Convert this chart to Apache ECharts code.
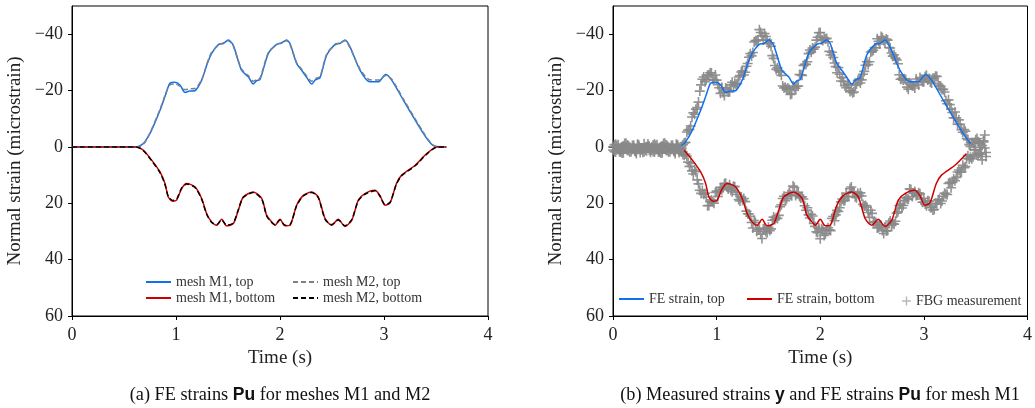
<!DOCTYPE html>
<html>
<head>
<meta charset="utf-8">
<script src="https://cdn.jsdelivr.net/npm/echarts@6/dist/echarts.min.js"></script>
<style>
  html, body { margin: 0; padding: 0; background: #fff; }
  #chart { width: 1035px; height: 408px; }
</style>
</head>
<body>
<div id="chart"></div>
<script>
// FE strains, top fibre (mesh M1 and mesh M2)
var topTime = [0, 0.62, 0.66, 0.70, 0.76, 0.846, 0.90, 0.94, 0.99, 1.04, 1.087, 1.13, 1.18, 1.247, 1.30,
  1.343, 1.41, 1.455, 1.503, 1.55, 1.63, 1.695, 1.743, 1.775, 1.808, 1.888, 1.968, 2.01, 2.064, 2.096,
  2.16, 2.208, 2.26, 2.305, 2.34, 2.385, 2.449, 2.529, 2.58, 2.625, 2.673, 2.77, 2.865, 2.945, 3.016,
  3.074, 3.186, 3.378, 3.45, 3.49, 3.6];
var m1Top = [0, 0, -0.5, -1.8, -5.5, -13, -18.5, -22.5, -22.9, -21.9, -19.3, -19.8, -19.9, -23.7, -29.5,
  -33.2, -36.4, -36.7, -37.9, -36.1, -27.2, -24.9, -22.3, -23.5, -23.9, -33.2, -36.4, -36.8, -37.9, -36.7,
  -29.6, -27.2, -24.5, -22.3, -23.8, -24.6, -32.6, -36.4, -36.8, -37.9, -35.5, -27.2, -23.1, -23.1, -25.7,
  -23.7, -16.6, -4.8, -1.2, -0.2, 0];
var m2Top = [0, 0, -0.3, -1.5, -5.8, -13.3, -18.8, -22.0, -22.3, -21.5, -20.3, -20.6, -20.7, -23.9, -29.8,
  -33.6, -36.2, -36.9, -37.7, -35.8, -27.6, -25.3, -23.3, -23.9, -24.4, -33.5, -36.3, -36.9, -37.7, -36.4,
  -29.9, -27.6, -25.0, -23.3, -24.2, -25.0, -32.9, -36.2, -36.9, -37.7, -35.2, -27.6, -23.8, -23.7, -25.3,
  -24.0, -17.0, -5.2, -1.4, -0.3, 0];

// FE strains, bottom fibre
var botTime = [0, 0.62, 0.686, 0.766, 0.846, 0.894, 0.926, 0.968, 1.006, 1.054, 1.103, 1.183, 1.247, 1.295,
  1.343, 1.391, 1.439, 1.487, 1.551, 1.599, 1.647, 1.743, 1.824, 1.872, 1.92, 1.952, 2.0, 2.048, 2.096,
  2.16, 2.224, 2.305, 2.368, 2.433, 2.497, 2.56, 2.625, 2.69, 2.753, 2.817, 2.913, 2.96, 3.01, 3.058,
  3.12, 3.17, 3.3, 3.41, 3.507, 3.6];
var m1Bot = [0, 0, 1.2, 4.7, 8.9, 13, 17.8, 19.3, 18.9, 14.8, 13, 14.2, 18.3, 23.7,
  26.6, 27.8, 25.7, 28, 27.2, 22.5, 17.8, 16, 18.3, 24.3, 26.6, 27.8, 25.7, 28, 27.8,
  20.7, 17.2, 16, 17.8, 25.4, 27.8, 25.7, 28.2, 26, 18.9, 16.6, 15.4, 17.2, 20.7, 19.9,
  13, 10, 6.5, 2.4, 0, 0];
var m2Bot = [0, 0, 1.3, 4.9, 9.1, 13.3, 17.6, 19.0, 18.6, 14.6, 13.2, 14.4, 18.6, 23.9,
  26.8, 27.6, 25.9, 27.8, 27.0, 22.3, 17.9, 16.2, 18.5, 24.5, 26.8, 27.6, 25.9, 27.8, 27.6,
  20.9, 17.4, 16.2, 18.0, 25.6, 27.6, 25.9, 28.0, 25.8, 19.1, 16.8, 15.6, 17.4, 20.5, 19.7,
  13.2, 10.2, 6.7, 2.6, 0.1, 0];

// FBG measurements, first sample set
var fbgTime = [0, 0.025, 0.05, 0.075, 0.1, 0.125, 0.15, 0.175, 0.2, 0.225,
  0.25, 0.275, 0.3, 0.325, 0.35, 0.375, 0.4, 0.425, 0.45, 0.475,
  0.5, 0.525, 0.55, 0.575, 0.6, 0.625, 0.65, 0.675, 0.7, 0.725,
  0.75, 0.775, 0.8, 0.825, 0.85, 0.875, 0.9, 0.925, 0.95, 0.975,
  1.0, 1.025, 1.05, 1.075, 1.1, 1.125, 1.15, 1.175, 1.2, 1.225,
  1.25, 1.275, 1.3, 1.325, 1.35, 1.375, 1.4, 1.425, 1.45, 1.475,
  1.5, 1.525, 1.55, 1.575, 1.6, 1.625, 1.65, 1.675, 1.7, 1.725,
  1.75, 1.775, 1.8, 1.825, 1.85, 1.875, 1.9, 1.925, 1.95, 1.975,
  2.0, 2.025, 2.05, 2.075, 2.1, 2.125, 2.15, 2.175, 2.2, 2.225,
  2.25, 2.275, 2.3, 2.325, 2.35, 2.375, 2.4, 2.425, 2.45, 2.475,
  2.5, 2.525, 2.55, 2.575, 2.6, 2.625, 2.65, 2.675, 2.7, 2.725,
  2.75, 2.775, 2.8, 2.825, 2.85, 2.875, 2.9, 2.925, 2.95, 2.975,
  3.0, 3.025, 3.05, 3.075, 3.1, 3.125, 3.15, 3.175, 3.2, 3.225,
  3.25, 3.275, 3.3, 3.325, 3.35, 3.375, 3.4, 3.425, 3.45, 3.475,
  3.5, 3.525, 3.55, 3.575, 3.6];
var fbgTop = [1.1, -0.9, 0.6, 1.8, -0.3, -1.3, 1.3, 0.5, -0.6, 1.6,
  0.0, 0.9, -1.1, 1.4, -0.2, 1.1, -0.9, 0.6, 1.8, -0.3,
  -1.3, 1.3, 0.5, -0.6, 1.6, 0.0, 0.9, -0.8, -1.6, -5.9,
  -7.4, -12.1, -13.4, -15.9, -22.0, -24.8, -23.8, -25.5, -26.2, -23.7,
  -23.7, -21.0, -21.1, -18.2, -20.4, -19.6, -22.9, -22.6, -22.5, -25.3,
  -27.0, -26.5, -29.6, -33.1, -33.5, -37.7, -37.9, -40.6, -37.9, -39.2,
  -36.6, -35.7, -31.4, -27.5, -27.0, -25.4, -20.9, -20.5, -20.4, -18.9,
  -21.2, -21.5, -25.7, -25.4, -29.3, -30.2, -34.4, -35.1, -35.4, -38.9,
  -40.6, -37.8, -38.3, -37.3, -32.6, -31.7, -28.5, -28.2, -23.4, -23.2,
  -21.0, -22.1, -20.0, -19.5, -22.3, -24.1, -23.8, -26.8, -30.2, -30.2,
  -33.9, -35.2, -38.4, -36.5, -38.7, -37.2, -37.9, -35.1, -32.2, -31.5,
  -29.5, -24.0, -23.7, -23.8, -20.5, -22.2, -21.7, -24.1, -22.0, -24.0,
  -23.1, -25.4, -24.3, -22.7, -24.4, -25.0, -21.6, -20.4, -19.5, -15.3,
  -15.0, -12.2, -12.4, -8.1, -8.0, -5.2, -5.6, -2.6, -0.2, -1.2,
  -2.5, 2.8, 0.2, -1.8, 2.0];
var fbgBottom = [0.0, 1.8, -0.8, 1.1, 2.1, 0.5, -0.4, 1.6, 0.3, 2.3,
  -0.6, 0.9, 1.7, -0.1, 1.2, 0.0, 1.8, -0.8, 1.1, 2.1,
  0.5, -0.4, 1.6, 0.3, 2.3, -0.6, 0.9, 2.7, 2.5, 5.4,
  5.9, 9.6, 8.8, 13.1, 16.5, 16.8, 17.8, 20.8, 18.8, 20.0,
  15.7, 15.7, 15.2, 13.1, 14.2, 13.4, 15.9, 14.1, 16.9, 19.2,
  18.9, 19.4, 23.7, 24.6, 28.8, 26.8, 29.3, 31.0, 29.1, 30.0,
  28.5, 29.1, 24.9, 25.1, 24.3, 20.5, 17.5, 18.4, 16.2, 17.3,
  14.4, 16.3, 17.6, 17.7, 20.9, 21.6, 25.2, 24.5, 28.2, 30.4,
  32.6, 29.6, 30.8, 28.7, 29.7, 24.7, 24.1, 22.9, 19.5, 19.1,
  16.4, 17.5, 14.2, 16.2, 18.0, 17.2, 17.4, 21.0, 21.4, 25.0,
  23.6, 26.5, 28.8, 27.7, 29.7, 28.6, 29.7, 26.3, 27.2, 26.4,
  23.0, 20.3, 20.8, 18.0, 18.6, 15.1, 16.4, 17.2, 16.3, 18.5,
  18.2, 20.9, 19.3, 21.5, 22.2, 20.2, 18.6, 19.2, 16.4, 16.9,
  12.6, 12.6, 12.0, 8.9, 8.9, 6.5, 7.0, 3.1, 3.7, 3.5,
  1.1, -1.8, 2.6, -2.2, 3.4];

// FBG measurements, second (interleaved) sample set
var fbgTime2 = [0.0125, 0.0375, 0.0625, 0.0875, 0.1125, 0.1375, 0.1625, 0.1875, 0.2125, 0.2375,
  0.2625, 0.2875, 0.3125, 0.3375, 0.3625, 0.3875, 0.4125, 0.4375, 0.4625, 0.4875,
  0.5125, 0.5375, 0.5625, 0.5875, 0.6125, 0.6375, 0.6625, 0.6875, 0.7125, 0.7375,
  0.7625, 0.7875, 0.8125, 0.8375, 0.8625, 0.8875, 0.9125, 0.9375, 0.9625, 0.9875,
  1.0125, 1.0375, 1.0625, 1.0875, 1.1125, 1.1375, 1.1625, 1.1875, 1.2125, 1.2375,
  1.2625, 1.2875, 1.3125, 1.3375, 1.3625, 1.3875, 1.4125, 1.4375, 1.4625, 1.4875,
  1.5125, 1.5375, 1.5625, 1.5875, 1.6125, 1.6375, 1.6625, 1.6875, 1.7125, 1.7375,
  1.7625, 1.7875, 1.8125, 1.8375, 1.8625, 1.8875, 1.9125, 1.9375, 1.9625, 1.9875,
  2.0125, 2.0375, 2.0625, 2.0875, 2.1125, 2.1375, 2.1625, 2.1875, 2.2125, 2.2375,
  2.2625, 2.2875, 2.3125, 2.3375, 2.3625, 2.3875, 2.4125, 2.4375, 2.4625, 2.4875,
  2.5125, 2.5375, 2.5625, 2.5875, 2.6125, 2.6375, 2.6625, 2.6875, 2.7125, 2.7375,
  2.7625, 2.7875, 2.8125, 2.8375, 2.8625, 2.8875, 2.9125, 2.9375, 2.9625, 2.9875,
  3.0125, 3.0375, 3.0625, 3.0875, 3.1125, 3.1375, 3.1625, 3.1875, 3.2125, 3.2375,
  3.2625, 3.2875, 3.3125, 3.3375, 3.3625, 3.3875, 3.4125, 3.4375, 3.4625, 3.4875,
  3.5125, 3.5375, 3.5625, 3.5875];
var fbgTop2 = [-0.7, 1.0, 1.7, -0.1, -1.2, 1.2, 0.4, -0.5, 1.5, -0.8,
  0.7, 1.9, 0.1, -1.0, 0.9, -0.7, 1.0, 1.7, -0.1, -1.2,
  1.2, 0.4, -0.5, 1.5, -0.8, 0.7, 1.8, -1.4, -5.3, -6.2,
  -10.6, -11.6, -14.0, -19.8, -24.0, -23.1, -25.4, -26.3, -24.0, -25.5,
  -22.1, -19.0, -19.3, -20.9, -19.5, -22.0, -21.6, -22.2, -24.8, -26.6,
  -25.5, -28.6, -31.8, -32.3, -37.2, -37.7, -41.6, -39.4, -40.2, -37.9,
  -36.9, -32.4, -28.9, -28.1, -26.6, -21.6, -21.2, -20.9, -18.6, -21.6,
  -20.8, -21.6, -25.6, -28.9, -29.3, -33.1, -33.6, -34.7, -37.9, -40.5,
  -38.0, -38.6, -38.5, -33.9, -33.6, -29.8, -26.3, -25.8, -24.6, -21.7,
  -22.3, -19.7, -19.2, -21.8, -23.6, -22.7, -25.8, -29.0, -29.2, -33.7,
  -34.3, -35.2, -37.5, -39.2, -37.8, -38.3, -35.3, -33.3, -32.7, -30.9,
  -25.6, -24.3, -24.2, -21.2, -22.8, -21.7, -20.9, -23.1, -24.6, -23.1,
  -25.0, -23.7, -23.0, -24.4, -25.1, -22.3, -21.5, -20.4, -16.4, -16.7,
  -13.4, -10.3, -10.3, -9.6, -6.1, -6.2, -3.0, -0.8, -1.5, -1.5,
  -3.0, 2.2, -0.5, -4.2];
var fbgBottom2 = [1.6, -0.5, 1.0, 2.2, 0.1, -0.7, 1.8, 0.6, 1.4, -0.9,
  2.0, 0.4, 1.2, -0.2, 1.9, 1.6, -0.5, 1.0, 2.2, 0.1,
  -0.7, 1.8, 0.6, 1.4, -0.9, 2.0, 0.5, 3.0, 3.2, 6.9,
  8.5, 8.2, 11.7, 15.4, 15.5, 16.5, 20.9, 19.4, 19.5, 16.2,
  17.6, 14.4, 14.5, 12.9, 14.9, 15.4, 14.0, 16.2, 18.7, 17.8,
  18.3, 22.8, 23.8, 26.8, 26.1, 29.9, 29.2, 32.5, 28.8, 30.5,
  29.7, 26.0, 25.8, 25.4, 21.2, 18.3, 19.1, 17.0, 16.9, 13.9,
  17.2, 16.1, 18.1, 18.5, 22.5, 24.1, 23.9, 27.2, 30.1, 28.9,
  29.0, 31.4, 29.4, 29.4, 25.4, 26.2, 22.5, 21.6, 18.5, 19.0,
  17.7, 14.8, 15.8, 17.7, 16.4, 16.3, 20.4, 20.8, 23.3, 22.5,
  26.9, 26.8, 28.6, 27.9, 30.7, 29.8, 27.0, 27.7, 27.4, 23.5,
  20.9, 21.7, 19.1, 18.4, 14.9, 17.6, 15.8, 17.1, 16.6, 19.6,
  20.3, 19.1, 21.5, 22.4, 20.0, 18.8, 20.1, 17.5, 16.8, 13.0,
  14.5, 11.4, 10.8, 8.2, 9.0, 7.4, 4.1, 4.3, 4.2, 1.0,
  2.9, -1.2, 4.6, 0.4];

var yTicks = [-40, -20, 0, 20, 40, 60];

var serif = "'Liberation Serif', 'DejaVu Serif', serif";
var blue = '#1170ee';
var red = '#cc0000';
var plus = 'path://M4.2,0H5.8V4.2H10V5.8H5.8V10H4.2V5.8H0V4.2H4.2Z';

function pairs(t, v) {
  return t.map(function (x, i) { return [x, v[i]]; });
}
// the FE curves in panel (b) are only drawn over the measurement window
function window_(d) {
  return d.filter(function (p) { return p[0] >= 0.64 && p[0] <= 3.47; });
}

function xAxisOf(i) {
  return {
    type: 'value', gridIndex: i, min: 0, max: 4, interval: 1,
    name: 'Time (s)', nameLocation: 'middle', nameGap: 32,
    nameTextStyle: { fontFamily: serif, fontSize: 19, color: '#222' },
    axisLine: { show: true, onZero: false, lineStyle: { color: '#000', width: 1 } },
    axisTick: { show: true, inside: false, length: 4, lineStyle: { color: '#000' } },
    axisLabel: { fontFamily: serif, fontSize: 18, color: '#222', margin: 10 },
    splitLine: { show: false }
  };
}
function yAxisOf(i) {
  return {
    type: 'value', gridIndex: i, min: -50, max: 60, inverse: true,
    name: 'Normal strain (microstrain)', nameLocation: 'middle', nameGap: 47,
    nameTextStyle: { fontFamily: serif, fontSize: 19, color: '#222' },
    axisLine: { show: true, onZero: false, lineStyle: { color: '#000', width: 1 } },
    axisTick: { show: true, inside: false, length: 4, customValues: yTicks, lineStyle: { color: '#000' } },
    axisLabel: {
      customValues: yTicks, fontFamily: serif, fontSize: 18, color: '#222', margin: 9,
      formatter: function (v) { return v < 0 ? '\u2212' + (-v) : String(v); }
    },
    splitLine: { show: false }
  };
}
function line(name, data, color, dashed, i) {
  return {
    type: 'line', name: name, xAxisIndex: i, yAxisIndex: i, data: data,
    symbol: 'none', smooth: 0.25,
    lineStyle: { color: color, width: 1.5, type: dashed ? [5, 3] : 'solid' },
    itemStyle: { color: color }
  };
}
function fbg(data) {
  return {
    type: 'scatter', name: 'FBG measurement', xAxisIndex: 1, yAxisIndex: 1, data: data,
    symbol: plus, symbolSize: 10,
    itemStyle: { color: '#888', opacity: 0.9 }
  };
}
var legendText = { fontFamily: serif, fontSize: 14, color: '#333' };
function legend(names, left, top, isLine) {
  return {
    data: names, left: left, top: top, orient: 'vertical',
    itemWidth: isLine ? 25 : 9, itemHeight: isLine ? 14 : 9, itemGap: isLine ? 2 : 0, padding: 0,
    textStyle: legendText, selectedMode: false,
    // line legends: hide the marker, keep the line sample
    itemStyle: isLine ? { opacity: 0 } : { opacity: 0.6 }
  };
}

var chart = echarts.init(document.getElementById('chart'), null, { renderer: 'canvas' });
chart.setOption({
  animation: false,
  grid: [
    { left: 72, top: 6, width: 416, height: 310, show: true, borderColor: '#000', borderWidth: 1 },
    { left: 613, top: 6, width: 416, height: 310, show: true, borderColor: '#000', borderWidth: 1 }
  ],
  xAxis: [xAxisOf(0), xAxisOf(1)],
  yAxis: [yAxisOf(0), yAxisOf(1)],
  legend: [
    legend(['mesh M1, top', 'mesh M1, bottom'], 145, 275, true),
    legend(['mesh M2, top', 'mesh M2, bottom'], 292, 275, true),
    legend(['FE strain, top'], 618, 292, true),
    legend(['FE strain, bottom'], 746, 292, true),
    legend(['FBG measurement'], 902, 294, false)
  ],
  series: [
    line('mesh M1, top', pairs(topTime, m1Top), blue, false, 0),
    line('mesh M1, bottom', pairs(botTime, m1Bot), red, false, 0),
    line('mesh M2, top', pairs(topTime, m2Top), '#808080', true, 0),
    line('mesh M2, bottom', pairs(botTime, m2Bot), '#000', true, 0),
    fbg(pairs(fbgTime, fbgTop)),
    fbg(pairs(fbgTime, fbgBottom)),
    fbg(pairs(fbgTime2, fbgTop2)),
    fbg(pairs(fbgTime2, fbgBottom2)),
    line('FE strain, top', window_(pairs(topTime, m1Top)), blue, false, 1),
    line('FE strain, bottom', window_(pairs(botTime, m1Bot)), red, false, 1)
  ],
  graphic: [
    {
      type: 'text', x: 280, y: 395,
      style: {
        text: '{n|(a) FE strains }{b|Pu}{n| for meshes M1 and M2}',
        align: 'center', verticalAlign: 'middle',
        rich: {
          n: { fontFamily: serif, fontSize: 18.3, fill: '#111' },
          b: { fontFamily: "'Liberation Sans', sans-serif", fontWeight: 'bold', fontSize: 17.5, fill: '#111' }
        }
      }
    },
    {
      type: 'text', x: 820, y: 395,
      style: {
        text: '{n|(b) Measured strains }{b|y}{n| and FE strains }{b|Pu}{n| for mesh M1}',
        align: 'center', verticalAlign: 'middle',
        rich: {
          n: { fontFamily: serif, fontSize: 18.3, fill: '#111' },
          b: { fontFamily: "'Liberation Sans', sans-serif", fontWeight: 'bold', fontSize: 17.5, fill: '#111' }
        }
      }
    }
  ]
});
</script>
</body>
</html>
